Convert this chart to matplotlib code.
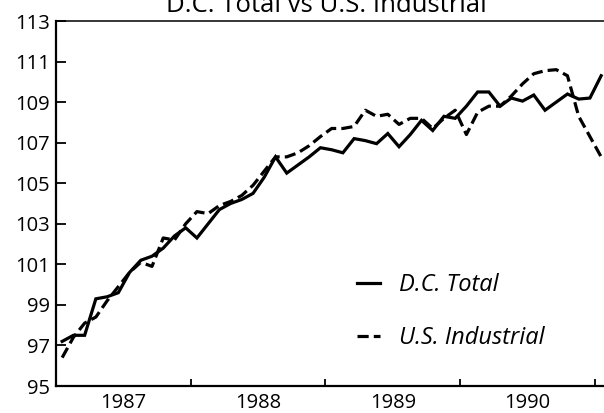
import numpy as np
import matplotlib
matplotlib.use("Agg")
import matplotlib.pyplot as plt

# monthly index values, Jan 1987 .. Jan 1991
dc_total = [97.2, 97.5, 97.5, 99.3, 99.4, 99.6, 100.6, 101.2, 101.4, 101.8,
            102.4, 102.8, 102.3, 103.0, 103.7, 104.0, 104.2, 104.5, 105.3, 106.3,
            105.5, 105.9, 106.3, 106.75, 106.65, 106.5, 107.2, 107.1, 106.95, 107.45,
            106.8, 107.4, 108.1, 107.6, 108.3, 108.2, 108.8, 109.5, 109.5, 108.8,
            109.2, 109.05, 109.35, 108.6, 109.0, 109.4, 109.15, 109.2, 110.3]
us_industrial = [96.4, 97.4, 98.1, 98.4, 99.2, 99.9, 100.6, 101.1, 100.9, 102.3,
                 102.2, 103.0, 103.6, 103.5, 103.9, 104.1, 104.4, 104.9, 105.6, 106.3,
                 106.3, 106.5, 106.85, 107.3, 107.7, 107.7, 107.8, 108.6, 108.3, 108.4,
                 107.9, 108.2, 108.2, 107.7, 108.2, 108.6, 107.4, 108.5, 108.8, 108.8,
                 109.3, 109.9, 110.4, 110.55, 110.6, 110.3, 108.3, 107.3, 106.3]
start_year = 1987
year_labels = ["1987", "1988", "1989", "1990"]
y_ticks = [95, 97, 99, 101, 103, 105, 107, 109, 111, 113]

FONT = "Open Sans"
plt.rcParams["font.family"] = [FONT, "DejaVu Sans"]

months = np.arange(len(dc_total))
x = start_year + (months + 0.55) / 12.0

fig = plt.figure(figsize=(6.04, 4.13), dpi=100)
ax = fig.add_axes([56 / 604, 1 - 386 / 413, 548 / 604, 365 / 413])

ax.plot(x, dc_total, color="black", lw=2.3, solid_joinstyle="miter",
        label="D.C. Total")
ax.plot(x, us_industrial, color="black", lw=2.3, linestyle=(0, (3.5, 1.6)),
        label="U.S. Industrial")

ax.set_ylim(95, 113)
ax.set_xlim(1987.0, 1991.067)
ax.set_yticks(y_ticks)
ax.set_yticklabels([str(v) for v in y_ticks])

# year boundaries get the tick marks, labels sit mid-year
years = [start_year + i for i in range(len(year_labels) + 1)]
ax.set_xticks(years)
ax.set_xticklabels([])
ax.set_xticks([y + 0.5 for y in years[:-1]], minor=True)
ax.set_xticklabels(year_labels, minor=True)

ax.tick_params(axis="y", direction="in", length=7, width=1.3, pad=4.5,
               labelsize=14.5)
ax.tick_params(axis="x", which="major", direction="in", length=5, width=1.3)
ax.tick_params(axis="x", which="minor", length=0, pad=5, labelsize=14.5)

for side in ["left", "bottom"]:
    ax.spines[side].set_linewidth(1.6)
ax.spines["top"].set_linewidth(1.1)
ax.spines["right"].set_visible(False)

leg = ax.legend(loc="upper left", bbox_to_anchor=(0.549, 0.31), frameon=False,
                prop={"style": "italic", "size": 17}, handlelength=1.0,
                handletextpad=0.8, labelspacing=1.25, borderpad=0,
                borderaxespad=0)

fig.text(326 / 604, 1 - 11.5 / 413, "D.C. Total vs U.S. Industrial",
         ha="center", va="baseline", fontsize=18.5)

fig.savefig("out.png", dpi=100)
